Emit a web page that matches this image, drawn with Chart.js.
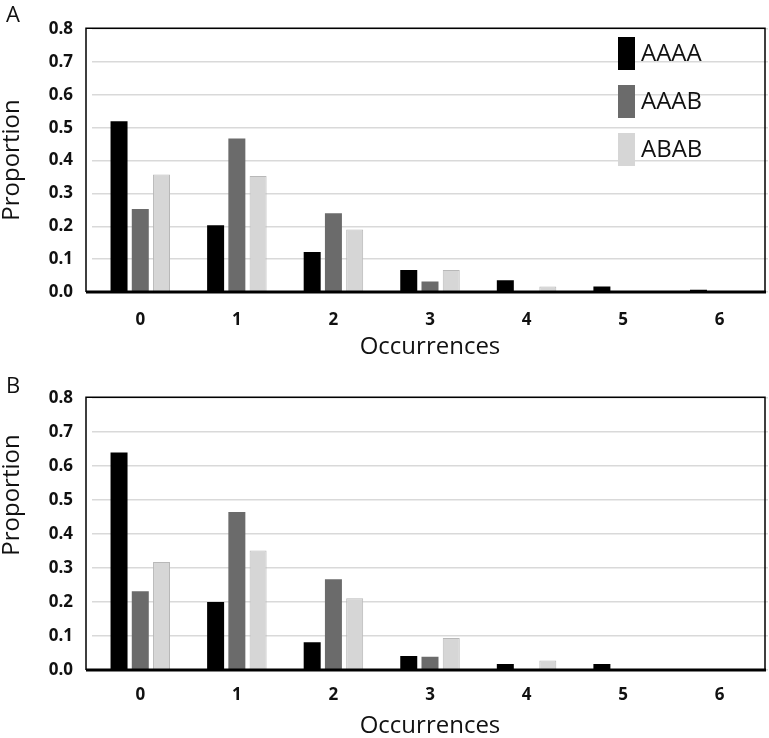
<!DOCTYPE html>
<html>
<head>
<meta charset="utf-8">
<script src="https://cdn.jsdelivr.net/npm/chart.js@4.4.1/dist/chart.umd.min.js"></script>
<style>
body { margin: 0; background: #fff; }
.panel { position: absolute; left: 0; width: 769px; height: 369px; }
</style>
</head>
<body>
<div class="panel" style="top:0"><canvas id="chartA"></canvas></div>
<div class="panel" style="top:369px"><canvas id="chartB"></canvas></div>
<script>
// data
var occurrences = ['0', '1', '2', '3', '4', '5', '6'];
var seriesNames = ['AAAA', 'AAAB', 'ABAB'];

var aAAAA = [0.520, 0.203, 0.122, 0.067, 0.036, 0.017, 0.007];
var aAAAB = [0.253, 0.467, 0.240, 0.032, 0.001, 0.001, 0.002];
var aABAB = [0.358, 0.353, 0.190, 0.067, 0.017, 0.001, 0.002];

var bAAAA = [0.640, 0.200, 0.082, 0.041, 0.018, 0.018, 0.002];
var bAAAB = [0.232, 0.465, 0.267, 0.039, 0.001, 0.001, 0.001];
var bABAB = [0.318, 0.352, 0.211, 0.094, 0.028, 0.001, 0.001];

var seriesColors = ['#000000', '#6b6b6b', '#d6d6d6'];
var seriesBorders = ['#000000', '#5e5e5e', '#b8b8b8'];

var FONT = '"Open Sans", "DejaVu Sans", sans-serif';

// frame, zero line, panel letter, y title and legend
var decorPlugin = {
    id: 'decor',
    afterDraw: function(chart, args, opts) {
        var ctx = chart.ctx;
        var ca = chart.chartArea;
        var l = ca.left - 6, r = ca.right - 3;
        ctx.save();
        ctx.strokeStyle = '#000';
        ctx.lineWidth = 1.5;
        ctx.beginPath();
        ctx.moveTo(l, ca.bottom);
        ctx.lineTo(l, ca.top - 1);
        ctx.lineTo(r, ca.top - 1);
        ctx.lineTo(r, ca.bottom);
        ctx.stroke();
        ctx.lineWidth = 3;
        ctx.beginPath();
        ctx.moveTo(l, ca.bottom);
        ctx.lineTo(r + 1, ca.bottom);
        ctx.stroke();

        ctx.fillStyle = '#111';
        ctx.font = '22px ' + FONT;
        ctx.textAlign = 'left';
        ctx.textBaseline = 'alphabetic';
        ctx.fillText(opts.letter, 6, opts.letterY);

        ctx.save();
        ctx.translate(12, opts.yTitleY);
        ctx.rotate(-Math.PI / 2);
        ctx.textAlign = 'center';
        ctx.textBaseline = 'middle';
        ctx.font = '24px ' + FONT;
        ctx.fillText('Proportion', 0, 0);
        ctx.restore();

        if (opts.legend) {
            chart.data.datasets.forEach(function(ds, i) {
                var y = 37 + i * 48;
                ctx.fillStyle = ds.backgroundColor;
                ctx.fillRect(618, y, 17, 33);
                ctx.fillStyle = '#111';
                ctx.font = '24px ' + FONT;
                ctx.textAlign = 'left';
                ctx.textBaseline = 'middle';
                ctx.fillText(ds.label, 641, y + 17);
            });
        }
        ctx.restore();
    }
};

function makeChart(canvasId, series, cfg) {
    var datasets = series.map(function(values, i) {
        return {
            label: seriesNames[i],
            data: values,
            backgroundColor: seriesColors[i],
            borderColor: seriesBorders[i],
            borderWidth: i === 2 ? 1 : 0,
            categoryPercentage: 0.66,
            barPercentage: 0.8
        };
    });
    return new Chart(document.getElementById(canvasId), {
        type: 'bar',
        data: { labels: occurrences, datasets: datasets },
        plugins: [decorPlugin],
        options: {
            responsive: true,
            maintainAspectRatio: false,
            animation: false,
            layout: { padding: { left: 0, right: 1, top: cfg.top, bottom: 0 } },
            plugins: {
                legend: { display: false },
                tooltip: { enabled: false },
                decor: cfg.decor
            },
            scales: {
                x: {
                    grid: { display: false, drawTicks: false },
                    border: { display: false },
                    ticks: {
                        padding: cfg.tickPad,
                        color: '#111',
                        font: { family: FONT, size: 17, weight: 'bold' }
                    },
                    title: {
                        display: true,
                        text: 'Occurrences',
                        color: '#111',
                        padding: cfg.titlePad,
                        font: { family: FONT, size: 24, lineHeight: 1 }
                    },
                    afterFit: function(scale) { scale.height = cfg.xHeight; }
                },
                y: {
                    min: 0,
                    max: 0.8,
                    grid: { color: '#d9d9d9', lineWidth: 1.5, drawTicks: false },
                    border: { display: false },
                    ticks: {
                        stepSize: 0.1,
                        padding: 19,
                        color: '#111',
                        font: { family: FONT, size: 17, weight: 'bold' },
                        callback: function(v) { return Number(v).toFixed(1); }
                    },
                    afterFit: function(scale) { scale.width = 92; }
                }
            }
        }
    });
}

makeChart('chartA', [aAAAA, aAAAB, aABAB], {
    top: 9, xHeight: 77, tickPad: 18, titlePad: 10,
    decor: { letter: 'A', letterY: 22, yTitleY: 160, legend: true }
});
makeChart('chartB', [bAAAA, bAAAB, bABAB], {
    top: 18, xHeight: 68, tickPad: 15, titlePad: 0,
    decor: { letter: 'B', letterY: 24, yTitleY: 126, legend: false }
});
</script>
</body>
</html>
